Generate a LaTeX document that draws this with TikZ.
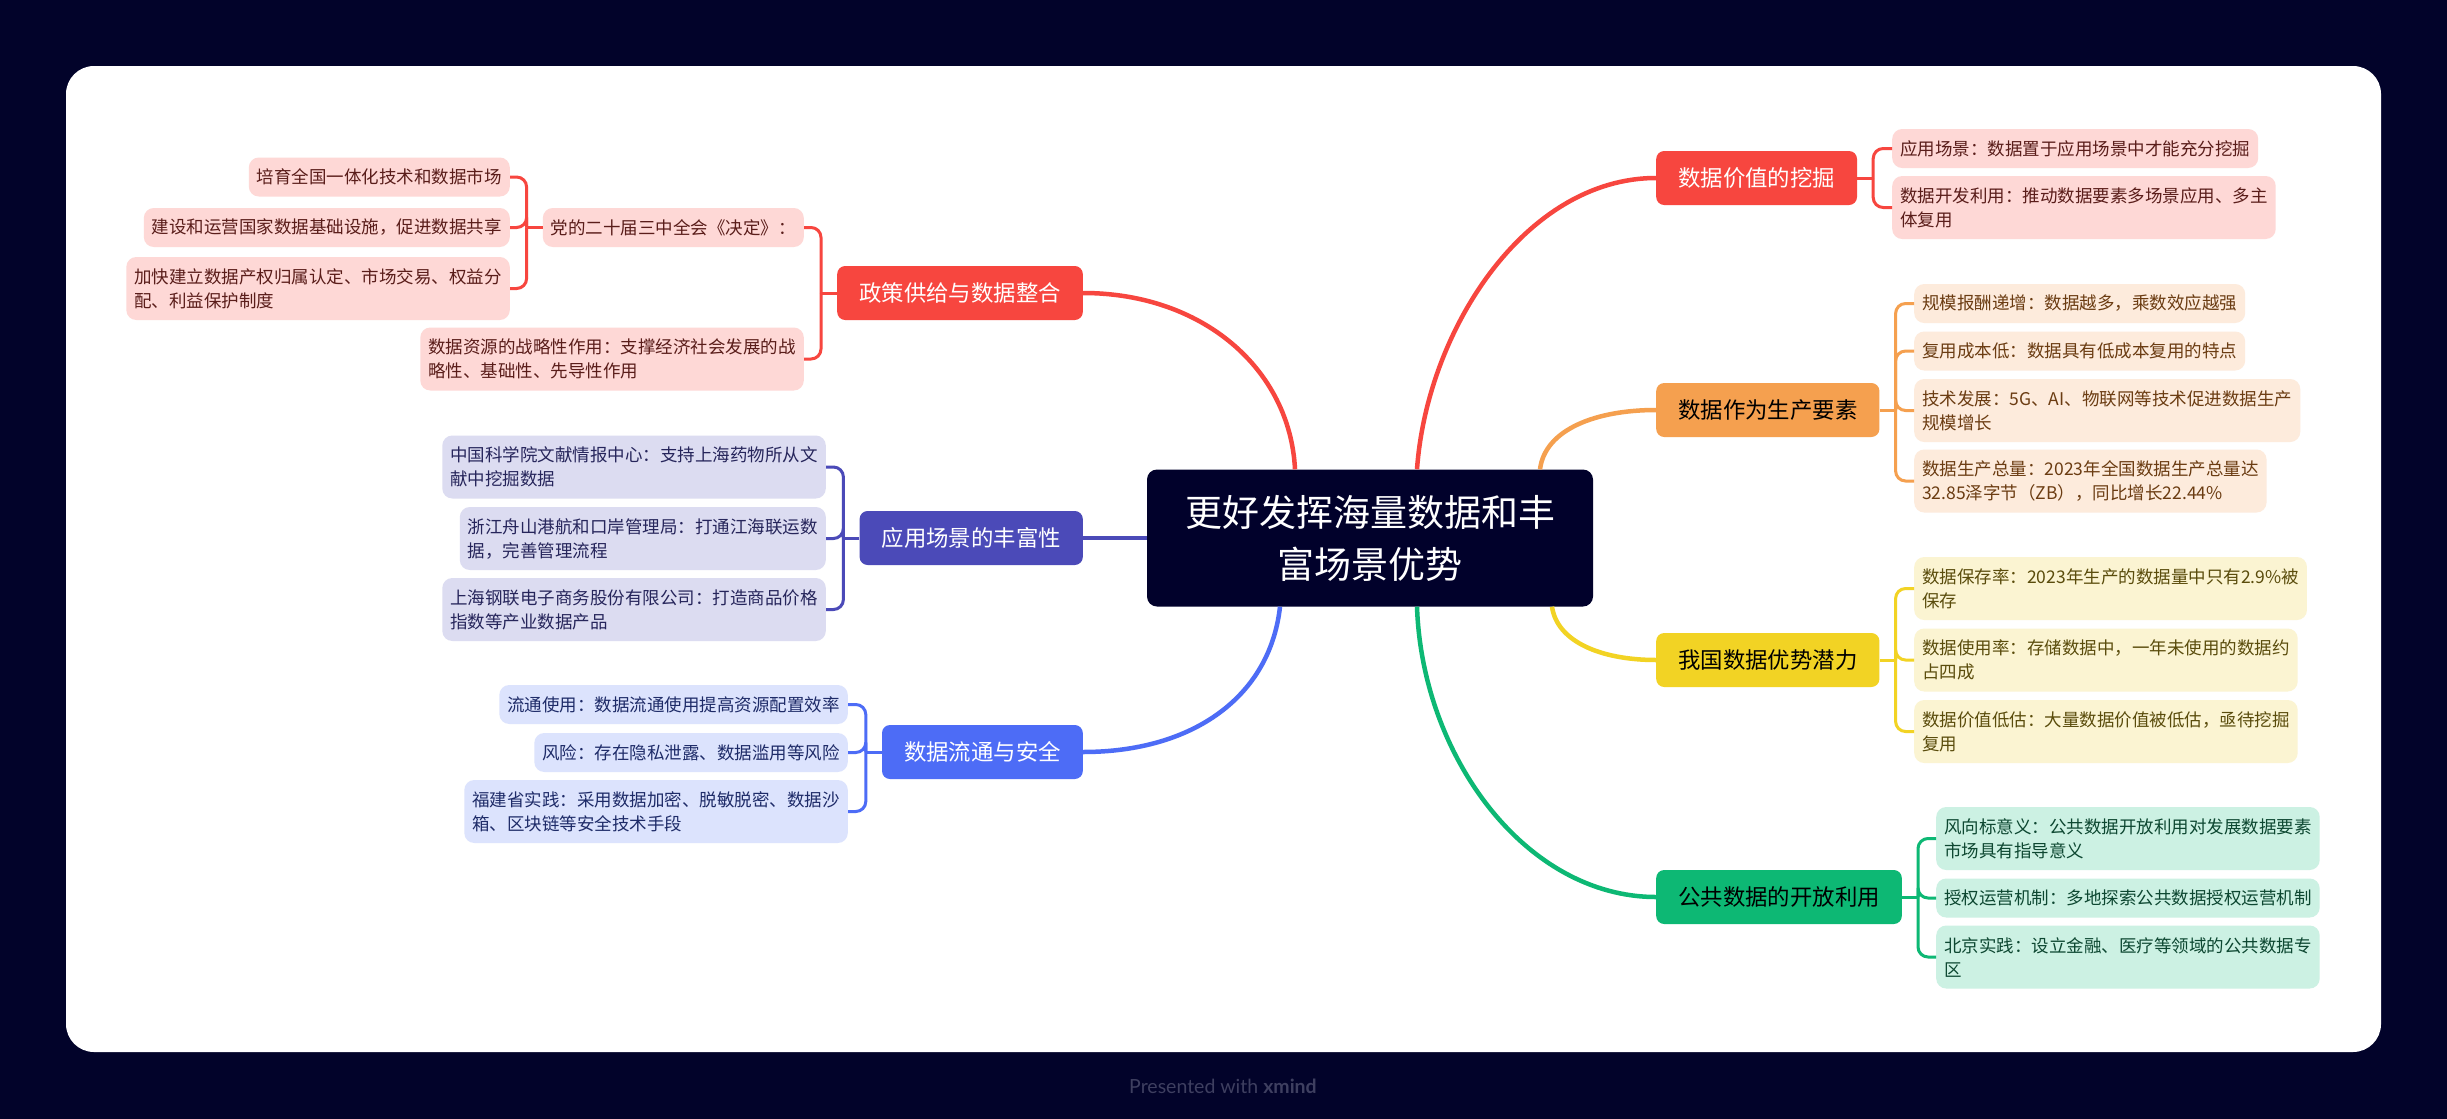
\documentclass[tikz,border=0pt]{standalone}
\usepackage{fontspec}
\setmainfont{Noto Sans CJK SC}
\newfontfamily\creditfont{Lato}
\usetikzlibrary{calc}
\definecolor{deepNavy}{HTML}{02032A}
\definecolor{rootNavy}{HTML}{01012B}
\definecolor{branchRed}{HTML}{F7463F}
\definecolor{leafRed}{HTML}{FED8D6}
\definecolor{inkRed}{HTML}{5A1D1A}
\definecolor{branchOrange}{HTML}{F5A04F}
\definecolor{leafOrange}{HTML}{FDEBDC}
\definecolor{inkOrange}{HTML}{6B3C12}
\definecolor{branchYellow}{HTML}{F2D324}
\definecolor{leafYellow}{HTML}{FBF4D2}
\definecolor{inkYellow}{HTML}{5A4C0C}
\definecolor{branchGreen}{HTML}{0DB874}
\definecolor{leafGreen}{HTML}{CCF1E3}
\definecolor{inkGreen}{HTML}{0D4731}
\definecolor{branchPurple}{HTML}{4B4AB8}
\definecolor{leafPurple}{HTML}{DCDCF1}
\definecolor{inkPurple}{HTML}{26255B}
\definecolor{branchBlue}{HTML}{4D6CF6}
\definecolor{leafBlue}{HTML}{DCE3FD}
\definecolor{inkBlue}{HTML}{1E2B68}
\definecolor{creditGray}{HTML}{3E3F60}

\begin{document}
\begin{tikzpicture}[x=1pt,y=-1pt,
    topic/.style={rounded corners=8pt,inner xsep=22pt,inner ysep=0pt,minimum height=54pt,
      font=\fontsize{22.4}{28}\selectfont},
    leaf/.style={rounded corners=10pt,inner xsep=8pt,inner ysep=0pt,align=left,
      font=\fontsize{17.5}{24}\selectfont},
    trunk/.style={line width=4.5pt},
    twig/.style={line width=3pt,rounded corners=10pt}]
    \useasboundingbox (0,0) rectangle (2447,1119);
    \fill[deepNavy] (0,0) rectangle (2447,1119);
    \fill[white,rounded corners=28pt] (66,66) rectangle (2381,1052);

    \node[fill=rootNavy,text=white,rounded corners=10pt,minimum width=446pt,minimum height=137pt,
      align=center,font=\fontsize{37}{52}\selectfont] (root) at (1370,538) {更好发挥海量数据和丰\\富场景优势};

    \node[topic,fill=branchRed,text=white,anchor=west] (mining) at (1656,178) {数据价值的挖掘};
    \node[topic,fill=branchOrange,text=black,anchor=west] (factor) at (1656,410) {数据作为生产要素};
    \node[topic,fill=branchYellow,text=black,anchor=west] (potential) at (1656,660) {我国数据优势潜力};
    \node[topic,fill=branchGreen,text=black,anchor=west] (opening) at (1656,897) {公共数据的开放利用};
    \node[topic,fill=branchRed,text=white,anchor=east] (policy) at (1083,293) {政策供给与数据整合};
    \node[topic,fill=branchPurple,text=white,anchor=east] (scene) at (1083,538) {应用场景的丰富性};
    \node[topic,fill=branchBlue,text=white,anchor=east] (flow) at (1083,752) {数据流通与安全};

    \draw[trunk,branchRed] ($(root.north)+(47,0)$) .. controls ($(root.north)+(57,-140)$) and ($(mining.west)+(-130,0)$) .. (mining.west);
    \draw[trunk,branchOrange] ($(root.north)+(170,0)$) .. controls ($(root.north)+(175,-40)$) and ($(factor.west)+(-60,0)$) .. (factor.west);
    \draw[trunk,branchYellow] ($(root.south)+(182,0)$) .. controls ($(root.south)+(187,35)$) and ($(potential.west)+(-55,0)$) .. (potential.west);
    \draw[trunk,branchGreen] ($(root.south)+(47,0)$) .. controls ($(root.south)+(52,150)$) and ($(opening.west)+(-130,0)$) .. (opening.west);
    \draw[trunk,branchRed] ($(root.north)+(-75,0)$) .. controls ($(root.north)+(-80,-100)$) and ($(policy.east)+(120,0)$) .. (policy.east);
    \draw[trunk,branchPurple] (root.west) -- (scene.east);
    \draw[trunk,branchBlue] ($(root.south)+(-90,0)$) .. controls ($(root.south)+(-100,90)$) and ($(flow.east)+(110,0)$) .. (flow.east);

    \foreach \k/\yy/\hh/\txt in {1/148.5/39/{应用场景：数据置于应用场景中才能充分挖掘},
        2/207.5/63/{数据开发利用：推动数据要素多场景应用、多主\\体复用}}
      \node[leaf,fill=leafRed,text=inkRed,minimum height=\hh,anchor=west] (mining\k) at (1892,\yy) {\txt};
    \draw[twig,branchRed] (mining.east) -- ++(16,0) coordinate (miningJ);
    \foreach \k in {1,2}
      \draw[twig,branchRed] (miningJ) |- (mining\k.west);

    \foreach \k/\yy/\hh/\txt in {1/303.5/39/{规模报酬递增：数据越多，乘数效应越强},
        2/351/39/{复用成本低：数据具有低成本复用的特点},
        3/410.5/63/{技术发展：5G、AI、物联网等技术促进数据生产\\规模增长},
        4/481/63/{数据生产总量：2023年全国数据生产总量达\\32.85泽字节（ZB），同比增长22.44\%}}
      \node[leaf,fill=leafOrange,text=inkOrange,minimum height=\hh,anchor=west] (factor\k) at (1914,\yy) {\txt};
    \draw[twig,branchOrange] (factor.east) -- ++(16,0) coordinate (factorJ);
    \foreach \k in {1,2,3,4}
      \draw[twig,branchOrange] (factorJ) |- (factor\k.west);

    \foreach \k/\yy/\hh/\txt in {1/588.5/63/{数据保存率：2023年生产的数据量中只有2.9\%被\\保存},
        2/660/63/{数据使用率：存储数据中，一年未使用的数据约\\占四成},
        3/731.5/63/{数据价值低估：大量数据价值被低估，亟待挖掘\\复用}}
      \node[leaf,fill=leafYellow,text=inkYellow,minimum height=\hh,anchor=west] (potential\k) at (1914,\yy) {\txt};
    \draw[twig,branchYellow] (potential.east) -- ++(16,0) coordinate (potentialJ);
    \foreach \k in {1,2,3}
      \draw[twig,branchYellow] (potentialJ) |- (potential\k.west);

    \foreach \k/\yy/\hh/\txt in {1/838.5/63/{风向标意义：公共数据开放利用对发展数据要素\\市场具有指导意义},
        2/898/39/{授权运营机制：多地探索公共数据授权运营机制},
        3/957/63/{北京实践：设立金融、医疗等领域的公共数据专\\区}}
      \node[leaf,fill=leafGreen,text=inkGreen,minimum height=\hh,anchor=west] (opening\k) at (1936,\yy) {\txt};
    \draw[twig,branchGreen] (opening.east) -- ++(16,0) coordinate (openingJ);
    \foreach \k in {1,2,3}
      \draw[twig,branchGreen] (openingJ) |- (opening\k.west);

    \foreach \k/\yy/\hh/\txt in {1/227.5/39/{党的二十届三中全会《决定》：},
        2/359/63/{数据资源的战略性作用：支撑经济社会发展的战\\略性、基础性、先导性作用}}
      \node[leaf,fill=leafRed,text=inkRed,minimum height=\hh,anchor=east] (policy\k) at (804,\yy) {\txt};
    \draw[twig,branchRed] (policy.west) -- ++(-16,0) coordinate (policyJ);
    \foreach \k in {1,2}
      \draw[twig,branchRed] (policyJ) |- (policy\k.east);

    \foreach \k/\yy/\hh/\txt in {1/177/39/{培育全国一体化技术和数据市场},
        2/227.5/39/{建设和运营国家数据基础设施，促进数据共享},
        3/288.5/63/{加快建立数据产权归属认定、市场交易、权益分\\配、利益保护制度}}
      \node[leaf,fill=leafRed,text=inkRed,minimum height=\hh,anchor=east] (decision\k) at (510,\yy) {\txt};
    \draw[twig,branchRed] (policy1.west) -- ++(-16,0) coordinate (decisionJ);
    \foreach \k in {1,2,3}
      \draw[twig,branchRed] (decisionJ) |- (decision\k.east);

    \foreach \k/\yy/\hh/\txt in {1/467/63/{中国科学院文献情报中心：支持上海药物所从文\\献中挖掘数据},
        2/538.5/63/{浙江舟山港航和口岸管理局：打通江海联运数\\据，完善管理流程},
        3/609.5/63/{上海钢联电子商务股份有限公司：打造商品价格\\指数等产业数据产品}}
      \node[leaf,fill=leafPurple,text=inkPurple,minimum height=\hh,anchor=east] (scene\k) at (826,\yy) {\txt};
    \draw[twig,branchPurple] (scene.west) -- ++(-16,0) coordinate (sceneJ);
    \foreach \k in {1,2,3}
      \draw[twig,branchPurple] (sceneJ) |- (scene\k.east);

    \foreach \k/\yy/\hh/\txt in {1/704.5/39/{流通使用：数据流通使用提高资源配置效率},
        2/752.5/39/{风险：存在隐私泄露、数据滥用等风险},
        3/811.5/63/{福建省实践：采用数据加密、脱敏脱密、数据沙\\箱、区块链等安全技术手段}}
      \node[leaf,fill=leafBlue,text=inkBlue,minimum height=\hh,anchor=east] (flow\k) at (848,\yy) {\txt};
    \draw[twig,branchBlue] (flow.west) -- ++(-16,0) coordinate (flowJ);
    \foreach \k in {1,2,3}
      \draw[twig,branchBlue] (flowJ) |- (flow\k.east);

    \node[text=creditGray,font=\creditfont\fontsize{19.5}{24}\selectfont] (credit) at (1223,1086)
      {Presented with \textbf{xmind}};
  \end{tikzpicture}
\end{document}
